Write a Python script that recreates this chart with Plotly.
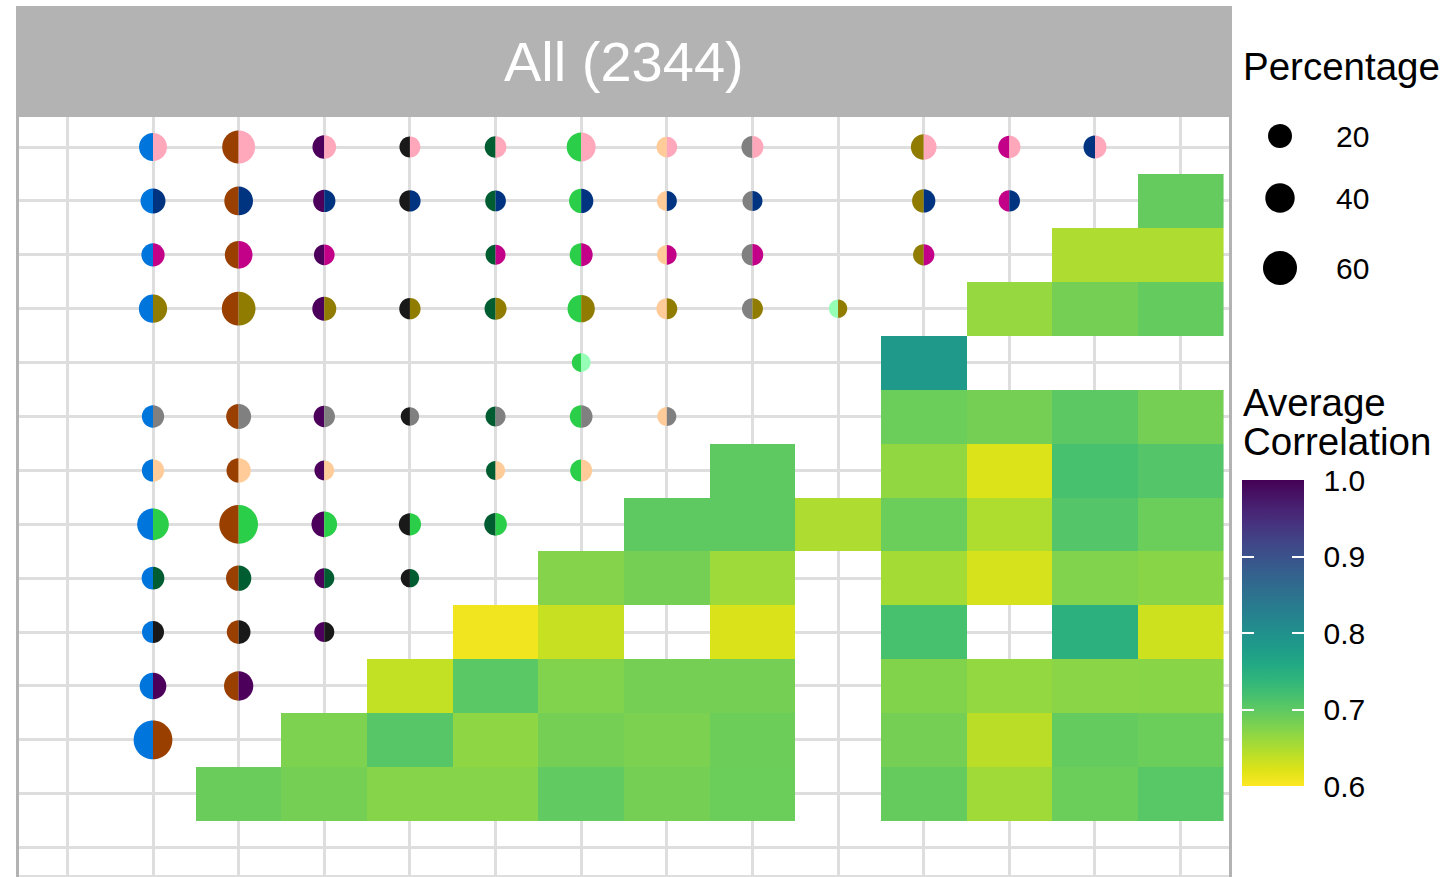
import plotly.graph_objects as go

# ---------------------------------------------------------------------------
# Groups (identical order on both axes) and their fill colours
# ---------------------------------------------------------------------------
groups = ["amethyst", "blue", "caramel", "damson", "ebony", "forest", "green",
          "honeydew", "iron", "jade", "khaki", "mallow", "navy", "pink"]
group_colors = ["#F0A0FF", "#0075DC", "#993F00", "#4C005C", "#191919", "#005C31",
                "#2BCE48", "#FFCC99", "#808080", "#94FFB5", "#8F7C00", "#C20088",
                "#003380", "#FFA8BB"]

# ---------------------------------------------------------------------------
# Upper triangle: percentage of samples carrying both groups
# ---------------------------------------------------------------------------
pair_x = ["blue", "caramel", "damson", "ebony", "forest", "green", "honeydew", "iron", "khaki", "mallow", "navy",
          "blue", "caramel", "damson", "ebony", "forest", "green", "honeydew", "iron", "khaki", "mallow",
          "blue", "caramel", "damson", "forest", "green", "honeydew", "iron", "khaki",
          "blue", "caramel", "damson", "ebony", "forest", "green", "honeydew", "iron", "jade",
          "green",
          "blue", "caramel", "damson", "ebony", "forest", "green", "honeydew",
          "blue", "caramel", "damson", "forest", "green",
          "blue", "caramel", "damson", "ebony", "forest",
          "blue", "caramel", "damson", "ebony",
          "blue", "caramel", "damson",
          "blue", "caramel",
          "blue"]
pair_y = (["pink"] * 11 + ["navy"] * 10 + ["mallow"] * 8 + ["khaki"] * 9 + ["jade"] * 1 +
          ["iron"] * 7 + ["honeydew"] * 5 + ["green"] * 5 + ["forest"] * 4 + ["ebony"] * 3 +
          ["damson"] * 2 + ["caramel"] * 1)
pair_pct = [34.3, 55.4, 19.0, 10.7, 12.7, 38.3, 9.8, 13.7, 25.8, 14.6, 16.8,
            23.4, 37.0, 14.6, 11.6, 9.8, 21.0, 7.9, 7.9, 17.7, 11.6,
            17.7, 33.2, 9.8, 7.9, 16.8, 7.0, 12.7, 11.6,
            35.5, 58.6, 20.0, 11.6, 13.7, 31.7, 10.7, 10.7, 3.4,
            4.4,
            14.6, 23.4, 11.6, 3.4, 7.9, 15.8, 5.2,
            14.6, 21.0, 7.0, 5.2, 13.7,
            49.5, 83.6, 25.8, 14.6, 15.8,
            15.8, 24.5, 7.9, 3.4,
            13.7, 19.0, 7.9,
            29.4, 39.5,
            83.6]

# ---------------------------------------------------------------------------
# Lower triangle: average correlation between groups
# ---------------------------------------------------------------------------
corr_x = ["pink",
          "navy", "pink",
          "mallow", "navy", "pink",
          "khaki",
          "khaki", "mallow", "navy", "pink",
          "iron", "khaki", "mallow", "navy", "pink",
          "honeydew", "iron", "jade", "khaki", "mallow", "navy", "pink",
          "green", "honeydew", "iron", "khaki", "mallow", "navy", "pink",
          "forest", "green", "iron", "khaki", "navy", "pink",
          "ebony", "forest", "green", "honeydew", "iron", "khaki", "mallow", "navy", "pink",
          "damson", "ebony", "forest", "green", "honeydew", "iron", "khaki", "mallow", "navy", "pink",
          "caramel", "damson", "ebony", "forest", "green", "honeydew", "iron", "khaki", "mallow", "navy", "pink"]
corr_y = (["navy"] * 1 + ["mallow"] * 2 + ["khaki"] * 3 + ["jade"] * 1 + ["iron"] * 4 +
          ["honeydew"] * 5 + ["green"] * 7 + ["forest"] * 7 + ["ebony"] * 6 + ["damson"] * 9 +
          ["caramel"] * 10 + ["blue"] * 11)
corr_value = [0.695,
              0.649, 0.649,
              0.663, 0.684, 0.696,
              0.785,
              0.691, 0.684, 0.702, 0.684,
              0.699, 0.666, 0.622, 0.717, 0.708,
              0.699, 0.699, 0.649, 0.691, 0.648, 0.708, 0.691,
              0.674, 0.684, 0.658, 0.654, 0.626, 0.676, 0.671,
              0.609, 0.634, 0.623, 0.717, 0.745, 0.630,
              0.637, 0.703, 0.676, 0.684, 0.684, 0.675, 0.665, 0.670, 0.671,
              0.678, 0.706, 0.668, 0.684, 0.679, 0.689, 0.684, 0.642, 0.696, 0.691,
              0.692, 0.684, 0.673, 0.673, 0.698, 0.684, 0.691, 0.694, 0.657, 0.691, 0.705]

# Legend entries
size_breaks = [20, 40, 60]
corr_breaks = [0.6, 0.7, 0.8, 0.9, 1.0]

title_text = "All (2344)"

# ---------------------------------------------------------------------------
# Styling / geometry
# ---------------------------------------------------------------------------
FONT = "Liberation Sans, Arial, sans-serif"
W, H = 1444, 877
ML, MR, MT, MB = 16, 212, 117, 0
PW, PH = W - ML - MR, H - MT - MB

viridis = ["#440154", "#471365", "#482475", "#463480", "#414487", "#3B528B",
           "#355F8D", "#2F6C8E", "#2A788E", "#25848E", "#21918C", "#1E9C89",
           "#22A884", "#2FB47C", "#44BF70", "#5EC962", "#7AD151", "#9BD93C",
           "#BDDF26", "#DFE318", "#FDE725"]
n = len(viridis) - 1
corr_scale = [[i / n, c] for i, c in enumerate(reversed(viridis))]


def px_x(px):
    return (px - ML) / PW


def px_y(py):
    return (H - MB - py) / PH


def diameter(pct):
    # point area grows linearly with percentage
    return (286.0 + 14.5 * pct) ** 0.5


K = 0.5523


def half_disc(r, side):
    s = -1 if side == "left" else 1
    return (f"M 0,{r:.2f} C {s*K*r:.2f},{r:.2f} {s*r:.2f},{K*r:.2f} {s*r:.2f},0 "
            f"C {s*r:.2f},{-K*r:.2f} {s*K*r:.2f},{-r:.2f} 0,{-r:.2f} Z")


idx = {g: i for i, g in enumerate(groups)}
ng = len(groups)
z = [[None] * ng for _ in range(ng)]
for gx, gy, v in zip(corr_x, corr_y, corr_value):
    z[idx[gy]][idx[gx]] = v

fig = go.Figure()

fig.add_trace(go.Heatmap(
    x=list(range(ng)), y=list(range(ng)), z=z,
    coloraxis="coloraxis", xgap=0, ygap=0, hoverongaps=False,
))

# overlay colour bars carrying the white tick marks on both sides of the bar
for ca in ("coloraxis2", "coloraxis3"):
    fig.add_trace(go.Scatter(x=[None], y=[None], mode="markers",
                             marker=dict(color=[corr_breaks[0]], coloraxis=ca),
                             showlegend=False, hoverinfo="skip"))

shapes = []
# panel strip
shapes.append(dict(type="rect", xref="paper", yref="paper", x0=0, x1=1,
                   y0=1, y1=px_y(6), fillcolor="#B3B3B3", line=dict(width=0),
                   layer="above"))
# panel border
for xb in (px_x(17.5), px_x(1230.5)):
    shapes.append(dict(type="line", xref="paper", yref="paper", x0=xb, x1=xb,
                       y0=px_y(877), y1=1, line=dict(color="#B3B3B3", width=3),
                       layer="above"))
shapes.append(dict(type="line", xref="paper", yref="paper", x0=px_x(19), x1=px_x(1229),
                   y0=px_y(876), y1=px_y(876), line=dict(color="#DEDEDE", width=2),
                   layer="above"))

# split discs: left half = x group, right half = y group
for gx, gy, p in zip(pair_x, pair_y, pair_pct):
    r = diameter(p) / 2
    for side, col in (("left", group_colors[idx[gx]]), ("right", group_colors[idx[gy]])):
        shapes.append(dict(type="path", xref="x", yref="y",
                           xsizemode="pixel", ysizemode="pixel",
                           xanchor=idx[gx], yanchor=idx[gy],
                           path=half_disc(r, side), fillcolor=col,
                           line=dict(width=0), layer="above"))

# size legend keys
key_y = [136, 198, 268]
annotations = []
for b, ky in zip(size_breaks, key_y):
    r = diameter(b) / 2
    for side in ("left", "right"):
        shapes.append(dict(type="path", xref="paper", yref="paper",
                           xsizemode="pixel", ysizemode="pixel",
                           xanchor=px_x(1280), yanchor=px_y(ky),
                           path=half_disc(r, side), fillcolor="black",
                           line=dict(width=0), layer="above"))
    annotations.append(dict(text=str(b), xref="paper", yref="paper",
                            x=px_x(1334), y=px_y(ky), xanchor="left", yanchor="middle",
                            showarrow=False, font=dict(family=FONT, size=30, color="black")))

annotations += [
    dict(text=title_text, xref="paper", yref="paper", x=0.5, y=px_y(62),
         xanchor="center", yanchor="middle", showarrow=False,
         font=dict(family=FONT, size=56, color="white")),
    dict(text="Percentage", xref="paper", yref="paper", x=px_x(1241), y=px_y(67),
         xanchor="left", yanchor="middle", showarrow=False,
         font=dict(family=FONT, size=38.5, color="black")),
    dict(text="Average", xref="paper", yref="paper", x=px_x(1241), y=px_y(402),
         xanchor="left", yanchor="middle", showarrow=False,
         font=dict(family=FONT, size=38.5, color="black")),
    dict(text="Correlation", xref="paper", yref="paper", x=px_x(1241), y=px_y(441),
         xanchor="left", yanchor="middle", showarrow=False,
         font=dict(family=FONT, size=38.5, color="black")),
]

bar_top, bar_bottom, bar_left = 480, 786, 1242
cb_common = dict(lenmode="pixels", len=bar_bottom - bar_top, thicknessmode="pixels",
                 xref="paper", yref="paper", x=px_x(bar_left), xanchor="left",
                 y=px_y(bar_bottom), yanchor="bottom", xpad=0, ypad=0,
                 outlinewidth=0, tickvals=corr_breaks, title=dict(text=""))

fig.update_layout(
    width=W, height=H,
    margin=dict(l=ML, r=MR, t=MT, b=MB, pad=0),
    paper_bgcolor="white", plot_bgcolor="white",
    font=dict(family=FONT, color="black"),
    showlegend=False,
    xaxis=dict(range=[-0.6, 13.6], tickvals=list(range(ng)), showticklabels=False,
               ticks="", showgrid=True, gridcolor="#DEDEDE", gridwidth=3,
               zeroline=False, showline=False, fixedrange=True),
    yaxis=dict(range=[-0.544, 13.557], tickvals=list(range(ng)), showticklabels=False,
               ticks="", showgrid=True, gridcolor="#DEDEDE", gridwidth=3,
               zeroline=False, showline=False, fixedrange=True),
    coloraxis=dict(colorscale=corr_scale, cmin=0.6, cmax=1.0,
                   colorbar=dict(**cb_common, thickness=62, ticks="outside", ticklen=14,
                                 tickcolor="rgba(0,0,0,0)",
                                 ticktext=[f"{v:.1f}" for v in corr_breaks],
                                 tickfont=dict(family=FONT, size=30, color="black"))),
    coloraxis2=dict(colorscale=corr_scale, cmin=0.6, cmax=1.0,
                    colorbar=dict(**cb_common, thickness=62, ticks="inside", ticklen=12,
                                  tickwidth=1.5, tickcolor="white", showticklabels=False)),
    coloraxis3=dict(colorscale=corr_scale, cmin=0.6, cmax=1.0,
                    colorbar=dict(**cb_common, thickness=12, ticks="inside", ticklen=12,
                                  tickwidth=1.5, tickcolor="white", showticklabels=False)),
    shapes=shapes,
    annotations=annotations,
)

fig.write_html("out.html")
